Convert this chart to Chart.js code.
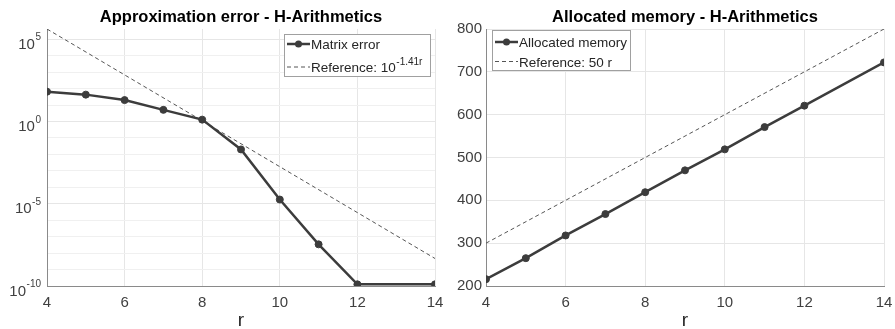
<!DOCTYPE html>
<html>
<head>
<meta charset="utf-8">
<script src="https://cdn.jsdelivr.net/npm/chart.js@4/dist/chart.umd.min.js"></script>
<style>
  html, body { margin: 0; padding: 0; background: #fff; }
  .panel { position: absolute; top: 0; height: 329px; }
  #leftPanel { left: 0; width: 445px; }
  #rightPanel { left: 445px; width: 450px; }
</style>
</head>
<body>
<div class="panel" id="leftPanel"><canvas id="errorChart" width="445" height="329"></canvas></div>
<div class="panel" id="rightPanel"><canvas id="memoryChart" width="450" height="329"></canvas></div>
<script>
const R_VALUES = [4, 5, 6, 7, 8, 9, 10, 11, 12, 14];
const MATRIX_ERROR = [65, 43, 20, 5.1, 1.3, 0.02, 1.8e-5, 3.4e-8, 1.26e-10, 1.26e-10];
const ERROR_REF_R = [4, 14];
const ERROR_REF = [4.2e5, 4.7e-9];
const MEMORY = [216, 265, 318, 368, 419, 470, 519, 571, 621, 722];
const MEMORY_REF_R = [4, 14];
const MEMORY_REF = [300, 800];
const R_TICKS = [4, 6, 8, 10, 12, 14];
const ERROR_DECADES = [-10, -9, -8, -7, -6, -5, -4, -3, -2, -1, 0, 1, 2, 3, 4, 5];
const ERROR_LABELED = [-10, -5, 0, 5];
const MEMORY_TICKS = [200, 300, 400, 500, 600, 700, 800];

const FONT = '"Liberation Sans", Arial, sans-serif';
const TEXT = '#262626';
const TICK_TEXT = '#404040';
const LINE = '#3c3c3c';
const REF_LINE = '#555555';
const GRID = '#e6e6e6';
const GRID_MINOR = '#f0f0f0';
const AXIS = '#8a8a8a';

Chart.defaults.font.family = FONT;
Chart.defaults.color = TICK_TEXT;

function pts(xs, ys) {
  return xs.map((x, i) => ({ x: x, y: ys[i] }));
}

function solidSet(label, xs, ys) {
  return {
    label: label,
    data: pts(xs, ys),
    borderColor: LINE,
    backgroundColor: LINE,
    borderWidth: 2.5,
    pointRadius: 3.5,
    pointBackgroundColor: LINE,
    pointBorderColor: LINE,
    pointBorderWidth: 1,
    tension: 0
  };
}

function dashedSet(label, xs, ys) {
  return {
    label: label,
    data: pts(xs, ys),
    borderColor: REF_LINE,
    borderWidth: 1,
    borderDash: [4, 3],
    pointRadius: 0,
    tension: 0
  };
}

// legend sample + text, drawn by hand so it looks like the matlab one
function drawLegend(ctx, box, rows) {
  ctx.save();
  ctx.fillStyle = '#fff';
  ctx.fillRect(box.x, box.y, box.w, box.h);
  ctx.strokeStyle = '#a0a0a0';
  ctx.lineWidth = 1;
  ctx.strokeRect(box.x + 0.5, box.y + 0.5, box.w, box.h);
  rows.forEach(row => {
    ctx.beginPath();
    ctx.moveTo(box.x + 3, row.y);
    ctx.lineTo(box.x + 26, row.y);
    if (row.dashed) {
      ctx.strokeStyle = REF_LINE;
      ctx.lineWidth = 1;
      ctx.setLineDash([4, 3]);
      ctx.stroke();
      ctx.setLineDash([]);
    } else {
      ctx.strokeStyle = LINE;
      ctx.lineWidth = 2.5;
      ctx.stroke();
      ctx.beginPath();
      ctx.fillStyle = LINE;
      ctx.arc(box.x + 14.5, row.y, 3.5, 0, Math.PI * 2);
      ctx.fill();
    }
    ctx.fillStyle = TEXT;
    ctx.textAlign = 'left';
    ctx.textBaseline = 'alphabetic';
    ctx.font = '13.5px ' + FONT;
    ctx.fillText(row.text, box.x + 27, row.y + 5);
    if (row.sup) {
      const w = ctx.measureText(row.text).width;
      ctx.font = '10px ' + FONT;
      ctx.fillText(row.sup, box.x + 27 + w + 0.5, row.y - 2);
    }
  });
  ctx.restore();
}

function panelDecor(opts) {
  return {
    id: 'panelDecor',
    afterDraw(chart) {
      const ctx = chart.ctx;
      const area = chart.chartArea;
      ctx.save();
      ctx.fillStyle = '#000';
      ctx.font = 'bold 16.5px ' + FONT;
      ctx.textAlign = 'center';
      ctx.textBaseline = 'alphabetic';
      ctx.fillText(opts.title, (area.left + area.right) / 2, 22);
      ctx.fillStyle = TEXT;
      ctx.font = '19px ' + FONT;
      ctx.fillText('r', (area.left + area.right) / 2, 326);
      if (opts.logLabels) {
        const y = chart.scales.y;
        ERROR_LABELED.forEach(e => {
          const py = y.getPixelForValue(Math.pow(10, e));
          ctx.font = '10px ' + FONT;
          const sup = String(e);
          const sw = ctx.measureText(sup).width;
          const right = area.left - 6;
          ctx.textAlign = 'right';
          ctx.fillStyle = TICK_TEXT;
          ctx.fillText(sup, right, py + 1);
          ctx.font = '15px ' + FONT;
          ctx.fillText('10', right - sw - 0.5, py + 9.5);
        });
      }
      ctx.restore();
      drawLegend(ctx, opts.legendBox, opts.legendRows);
    }
  };
}

function xScale() {
  return {
    type: 'linear',
    min: 4,
    max: 14,
    afterBuildTicks: s => { s.ticks = R_TICKS.map(v => ({ value: v })); },
    afterFit: s => {
      s.height = 43;
      s.paddingLeft = 0;
      s.paddingRight = 0;
    },
    grid: { color: GRID, drawTicks: false },
    border: { color: AXIS, width: 1 },
    ticks: { padding: 8, color: TICK_TEXT, font: { size: 15 } }
  };
}

new Chart(document.getElementById('errorChart'), {
  type: 'line',
  data: {
    datasets: [
      solidSet('Matrix error', R_VALUES, MATRIX_ERROR),
      dashedSet('Reference', ERROR_REF_R, ERROR_REF)
    ]
  },
  options: {
    responsive: false,
    animation: false,
    devicePixelRatio: 1,
    layout: { padding: { top: 29, right: 10, left: 0, bottom: 0 } },
    plugins: { legend: { display: false }, title: { display: false }, tooltip: { enabled: false } },
    scales: {
      x: xScale(),
      y: {
        type: 'logarithmic',
        min: 1e-10,
        max: ERROR_REF[0],
        afterBuildTicks: s => { s.ticks = ERROR_DECADES.map(e => ({ value: Math.pow(10, e) })); },
        afterFit: s => { s.width = 47; },
        grid: {
          drawTicks: false,
          color: c => {
            const e = Math.round(Math.log10(c.tick.value));
            return e % 5 === 0 ? GRID : GRID_MINOR;
          }
        },
        border: { color: AXIS, width: 1 },
        ticks: { display: false }
      }
    }
  },
  plugins: [panelDecor({
    title: 'Approximation error - H-Arithmetics',
    logLabels: true,
    legendBox: { x: 284, y: 34, w: 146, h: 42 },
    legendRows: [
      { text: 'Matrix error', y: 44 },
      { text: 'Reference: 10', sup: '-1.41r', y: 67, dashed: true }
    ]
  })]
});

new Chart(document.getElementById('memoryChart'), {
  type: 'line',
  data: {
    datasets: [
      solidSet('Allocated memory', R_VALUES, MEMORY),
      dashedSet('Reference: 50 r', MEMORY_REF_R, MEMORY_REF)
    ]
  },
  options: {
    responsive: false,
    animation: false,
    devicePixelRatio: 1,
    layout: { padding: { top: 29, right: 11, left: 0, bottom: 0 } },
    plugins: { legend: { display: false }, title: { display: false }, tooltip: { enabled: false } },
    scales: {
      x: xScale(),
      y: {
        type: 'linear',
        min: 200,
        max: 800,
        afterBuildTicks: s => { s.ticks = MEMORY_TICKS.map(v => ({ value: v })); },
        afterFit: s => { s.width = 41; },
        grid: { color: GRID, drawTicks: false },
        border: { color: AXIS, width: 1 },
        ticks: { padding: 4, color: TICK_TEXT, font: { size: 15 } }
      }
    }
  },
  plugins: [panelDecor({
    title: 'Allocated memory - H-Arithmetics',
    logLabels: false,
    legendBox: { x: 47, y: 30, w: 138, h: 40 },
    legendRows: [
      { text: 'Allocated memory', y: 42 },
      { text: 'Reference: 50 r', y: 61.5, dashed: true }
    ]
  })]
});
</script>
</body>
</html>
